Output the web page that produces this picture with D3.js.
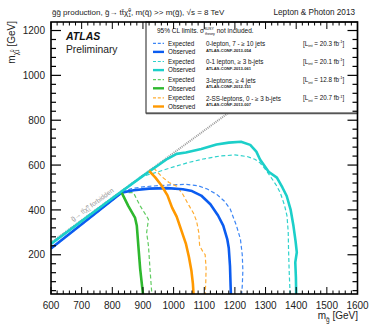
<!DOCTYPE html>
<html>
<head>
<meta charset="utf-8">
<script src="https://cdn.jsdelivr.net/npm/d3@7/dist/d3.min.js"></script>
<style>
  html, body { margin: 0; padding: 0; background: #fff; }
  svg { display: block; font-family: "Liberation Sans", Arial, Helvetica, sans-serif; }
</style>
</head>
<body>
<svg id="chart" width="370" height="324"></svg>
<script>
// ---- limit contours: [m(gluino) GeV, m(neutralino) GeV] ----
const analyses = ["0-lepton, 7 - \u2265 10 jets", "0-1 lepton, \u2265 3 b-jets", "3-leptons, \u2265 4 jets", "2-SS-leptons, 0 - \u2265 3 b-jets"];
const confNotes = ["ATLAS-CONF-2013-054", "ATLAS-CONF-2013-061", "ATLAS-CONF-2012-151", "ATLAS-CONF-2013-007"];
const lumis = ["20.3", "20.1", "12.8", "20.7"];

const expected0L = [[600,226],[700,334],[800,442],[835,480],[860,494],[900,503],[950,508],[1000,512],[1040,514],[1080,508],[1110,493],[1140,470],[1165,440],[1185,403],[1205,330],[1218,270],[1224,200],[1226,130],[1224,60],[1222,25]];
const observed0L = [[600,228],[700,336],[800,444],[830,477],[870,488],[920,495],[980,497],[1030,492],[1060,484],[1090,464],[1120,425],[1145,375],[1162,330],[1175,270],[1180,230],[1184,150],[1186,60],[1187,25]];
const expected1L = [[600,250],[700,352],[800,450],[900,550],[950,570],[1000,592],[1050,612],[1100,628],[1150,640],[1200,645],[1240,638],[1265,626],[1282,610],[1300,580],[1315,551],[1335,510],[1348,477],[1362,420],[1370,373],[1374,300],[1375,225],[1377,130],[1380,25]];
const observed1L = [[600,248],[700,350],[800,452],[900,552],[980,628],[1010,650],[1040,656],[1090,672],[1140,692],[1180,700],[1220,704],[1250,690],[1270,660],[1282,625],[1310,570],[1337,544],[1355,500],[1369,462],[1382,400],[1391,329],[1398,260],[1402,211],[1397,166],[1399,100],[1400,25]];
const expected3L = [[832,478],[869,477],[891,418],[918,358],[912,299],[918,240],[923,136],[929,25]];
const observed3L = [[831,476],[852,418],[874,366],[880,329],[885,240],[891,136],[900,25]];
const expectedSS = [[935,587],[960,550],[985,522],[1010,506],[1030,470],[1050,420],[1065,385],[1075,350],[1082,300],[1085,240],[1095,215],[1103,200],[1106,140],[1105,80],[1103,25]];
const observedSS = [[920,574],[940,545],[960,510],[980,465],[995,410],[1010,370],[1025,310],[1040,250],[1050,190],[1058,130],[1063,70],[1065,25]];

const xTicks = [600,700,800,900,1000,1100,1200,1300,1400,1500,1600];
const yTicks = [200,400,600,800,1000,1200];

// ---- layout ----
const svg = d3.select("#chart");
const L = 51, R = 357.5, T = 22, B = 294;
const x = d3.scaleLinear().domain([600,1600]).range([L,R]);
const y = d3.scaleLinear().domain([25,1238]).range([B,T]);

const colors = ["#0b5cf0", "#1ccfc9", "#2eb82e", "#ff9900"];
const dashColors = ["#3d86f5", "#2fd2cc", "#62cc62", "#ffad33"];
const expSets = [expected0L, expected1L, expected3L, expectedSS];
const obsSets = [observed0L, observed1L, observed3L, observedSS];

svg.append("defs").append("clipPath").attr("id","plotclip")
  .append("rect").attr("x",L).attr("y",T).attr("width",R-L).attr("height",B-T);

const plot = svg.append("g").attr("clip-path","url(#plotclip)");
const line = d3.line().x(d => x(d[0])).y(d => y(d[1]));

// kinematic boundary m(gluino) = 2 m(top) + m(neutralino)
const mTop = 173;
const boundary = [[600, 600 - 2*mTop], [1600, 1600 - 2*mTop]];
plot.append("path").attr("d", line(boundary))
  .attr("fill","none").attr("stroke","#9a9a9a").attr("stroke-width",2)
  .attr("stroke-dasharray","1,1");

// expected (dashed) then observed (solid)
expSets.forEach((s,i) => {
  plot.append("path").attr("d", line(s)).attr("fill","none")
    .attr("stroke", dashColors[i]).attr("stroke-width",1.2)
    .attr("stroke-dasharray","4,2.5");
});
obsSets.forEach((s,i) => {
  plot.append("path").attr("d", line(s)).attr("fill","none")
    .attr("stroke", colors[i]).attr("stroke-width",2.6)
    .attr("stroke-linejoin","round");
});

// forbidden-region label along the boundary
const ang = Math.atan2(y(500)-y(400), x(846)-x(746)) * 180 / Math.PI;
const fl = svg.append("text")
  .attr("transform", `translate(${x(672)},${y(326)-5}) rotate(${ang})`)
  .attr("font-size", 6.6).attr("fill", "#999");
fl.append("tspan").text("g\u0303\u2192 tt\u0304\u03c7\u0303");
fl.append("tspan").attr("font-size",4.2).attr("dy",-2.3).text("0");
fl.append("tspan").attr("font-size",4.2).attr("dx",-2.3).attr("dy",4).text("1");
fl.append("tspan").attr("dy",-1.7).text(" forbidden");

// ---- legend box ----
const lg = svg.append("g");
lg.append("rect").attr("x",146).attr("y",T).attr("width",R-146).attr("height",113-T)
  .attr("fill","#fff").attr("stroke","#444").attr("stroke-width",1.2);
lg.append("line").attr("x1",146).attr("x2",R).attr("y1",113.6).attr("y2",113.6)
  .attr("stroke","#555").attr("stroke-width",1.4);

const hdr = lg.append("text").attr("x",157).attr("y",33).attr("font-size",6.5).attr("fill","#111");
hdr.append("tspan").text("95% CL limits. \u03c3");
hdr.append("tspan").attr("font-size",3.6).attr("dy",-3).text("SUSY");
hdr.append("tspan").attr("font-size",3.6).attr("dx",-9).attr("dy",4.6).text("theory");
hdr.append("tspan").attr("dy",-1.6).text(" not included.");

analyses.forEach((name,i) => {
  const ye = 43.3 + i*18.2, yo = ye + 8.6;
  lg.append("line").attr("x1",153).attr("x2",164).attr("y1",ye).attr("y2",ye)
    .attr("stroke",dashColors[i]).attr("stroke-width",1.2).attr("stroke-dasharray","3,1.8");
  lg.append("line").attr("x1",153).attr("x2",164).attr("y1",yo).attr("y2",yo)
    .attr("stroke",colors[i]).attr("stroke-width",2.4);
  lg.append("text").attr("x",168).attr("y",ye+2.3).attr("font-size",6.3).attr("fill","#111").text("Expected");
  lg.append("text").attr("x",168).attr("y",yo+2.3).attr("font-size",6.3).attr("fill","#111").text("Observed");
  lg.append("text").attr("x",206).attr("y",ye+2.8).attr("font-size",6.3).attr("fill","#111").text(name);
  lg.append("text").attr("x",206).attr("y",ye+8.2).attr("font-size",4.1).attr("font-weight","bold").attr("fill","#222").text(confNotes[i]);
  const lt = lg.append("text").attr("x",303).attr("y",ye+2.3).attr("font-size",6.3).attr("fill","#111");
  lt.append("tspan").text("[L");
  lt.append("tspan").attr("font-size",4).attr("dy",1.6).text("int");
  lt.append("tspan").attr("dy",-1.6).text(" = " + lumis[i] + " fb");
  lt.append("tspan").attr("font-size",4).attr("dy",-2.6).text("-1");
  lt.append("tspan").attr("dy",2.6).text("]");
});

// ---- axes frame and ticks (ticks drawn inward) ----
const ax = svg.append("g").attr("stroke","#000");
const xMinor = d3.range(600,1601,20).filter(v => v % 100 !== 0);
const yMinor = d3.range(40,1238,40).filter(v => v % 200 !== 0);

function xTicksAt(vals, len) {
  vals.forEach(v => {
    ax.append("line").attr("x1",x(v)).attr("x2",x(v)).attr("y1",B).attr("y2",B-len).attr("stroke-width",1);
    ax.append("line").attr("x1",x(v)).attr("x2",x(v)).attr("y1",T).attr("y2",T+len).attr("stroke-width",1);
  });
}
function yTicksAt(vals, len) {
  vals.forEach(v => {
    ax.append("line").attr("y1",y(v)).attr("y2",y(v)).attr("x1",L).attr("x2",L+len).attr("stroke-width",1.2);
    ax.append("line").attr("y1",y(v)).attr("y2",y(v)).attr("x1",R).attr("x2",R-len).attr("stroke-width",1.2);
  });
}
xTicksAt(xMinor, 3.5);
xTicksAt(xTicks, 7);
yTicksAt(yMinor, 5);
yTicksAt(yTicks, 10);
ax.append("rect").attr("x",L).attr("y",T).attr("width",R-L).attr("height",B-T)
  .attr("fill","none").attr("stroke-width",1.6);

const labels = svg.append("g").attr("font-size",10).attr("fill","#222");
xTicks.forEach(v => labels.append("text").attr("x",x(v)).attr("y",309).attr("text-anchor","middle").text(v));
yTicks.forEach(v => labels.append("text").attr("x",45).attr("y",y(v)+3.6).attr("text-anchor","end").text(v));

// axis titles
const xt = svg.append("text").attr("x",358).attr("y",319).attr("text-anchor","end").attr("font-size",10).attr("fill","#222");
xt.append("tspan").text("m");
xt.append("tspan").attr("font-size",6.5).attr("dy",2.5).text("g\u0303");
xt.append("tspan").attr("dy",-2.5).text(" [GeV]");

const yt = svg.append("text").attr("transform","translate(15,21) rotate(-90)").attr("text-anchor","end").attr("font-size",10).attr("fill","#222");
yt.append("tspan").text("m");
yt.append("tspan").attr("font-size",6.5).attr("dy",3).text("\u03c7\u0303");
yt.append("tspan").attr("font-size",4.5).attr("dy",-4.5).text("0");
yt.append("tspan").attr("font-size",4.5).attr("dx",-2.5).attr("dy",5).text("1");
yt.append("tspan").attr("dy",-3.5).text(" [GeV]");

// ATLAS label
svg.append("text").attr("x",66).attr("y",39.5).attr("font-size",10.5).attr("font-weight","bold").attr("font-style","italic").attr("fill","#111").text("ATLAS");
svg.append("text").attr("x",66).attr("y",52.5).attr("font-size",10.3).attr("fill","#222").text("Preliminary");

// title line
const tt = svg.append("text").attr("x",52).attr("y",15).attr("font-size",8).attr("fill","#222");
tt.append("tspan").text("g\u0303g\u0303 production, g\u0303\u2192 tt\u0304\u03c7\u0303");
tt.append("tspan").attr("font-size",5).attr("dy",-3).text("0");
tt.append("tspan").attr("font-size",5).attr("dx",-2.8).attr("dy",5).text("1");
tt.append("tspan").attr("dy",-2).text(", m(q\u0303) >> m(g\u0303), \u221as = 8 TeV");
svg.append("text").attr("x",355).attr("y",15).attr("text-anchor","end").attr("font-size",8.2).attr("fill","#222").text("Lepton & Photon 2013");
</script>
</body>
</html>
